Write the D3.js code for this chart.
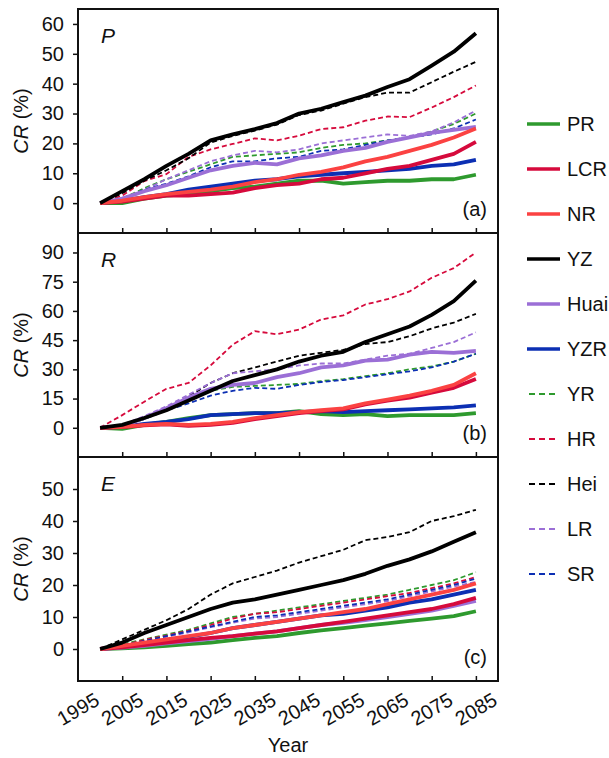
<!DOCTYPE html>
<html>
<head>
<meta charset="utf-8">
<script src="https://cdn.jsdelivr.net/npm/d3@7"></script>
<style>
  body { margin: 0; background: #fff; }
  text { font-family: "Liberation Sans", Arial, sans-serif; fill: #111; }
</style>
</head>
<body>
<script>
// years (every 5 years)
var years = [2000, 2005, 2010, 2015, 2020, 2025, 2030, 2035, 2040, 2045, 2050, 2055, 2060, 2065, 2070, 2075, 2080, 2085];

var names = ["PR", "LCR", "NR", "YZ", "Huai", "YZR", "YR", "HR", "Hei", "LR", "SR"];
var colors = ["#2e9a2e", "#d60a3c", "#fb4242", "#000000", "#9b6fd6", "#0c2fb3", "#2e9a2e", "#d60a3c", "#000000", "#9b6fd6", "#0c2fb3"];
var dashed = [false, false, false, false, false, false, true, true, true, true, true];

// panel (a) P
var P_PR   = [0, 0, 1.5, 2.5, 3, 4, 5, 5.5, 6.5, 7.5, 7.5, 6.5, 7, 7.5, 7.5, 8, 8, 9.5];
var P_LCR  = [0, 0.5, 1.5, 2.5, 2.5, 3, 3.5, 5, 6, 6.5, 8, 8.5, 10, 11.5, 12.5, 14.5, 16.5, 20.5];
var P_NR   = [0, 0.8, 2, 3, 3.8, 4.5, 5.5, 7, 8, 9.5, 10.5, 12, 14, 15.5, 17.5, 19.5, 22, 25];
var P_YZ   = [0, 4, 8, 12.5, 16.5, 21, 23, 24.8, 26.8, 30, 31.6, 33.8, 36, 38.9, 41.5, 46, 50.7, 56.9];
var P_Huai = [0, 1.5, 4, 6, 8.5, 11, 12.5, 13.5, 13, 15, 16, 17.5, 18.5, 20.5, 22, 23.5, 24.5, 25.5];
var P_YZR  = [0, 0.8, 2, 3, 4.5, 5.5, 6.5, 7.5, 8, 9, 9.5, 10, 10.5, 11, 11.5, 12.5, 13, 14.5];
var P_YR   = [0, 1.5, 5, 8, 10.5, 13, 15.5, 16, 16.5, 17, 18.5, 19.5, 20, 21, 22, 24, 26.5, 30];
var P_HR   = [0, 2.5, 7.4, 9.7, 15.5, 18, 19.8, 21.7, 21, 22.6, 24.8, 25.4, 27.6, 29, 28.8, 32, 35.5, 39.4];
var P_Hei  = [0, 3.3, 7.5, 11, 15, 20.3, 22.5, 24.3, 26.3, 29.5, 31, 33.3, 35.5, 37, 37, 40.5, 44, 47.3];
var P_LR   = [0, 1.5, 4.5, 8, 11, 14, 16, 17.5, 17, 18, 20, 21, 22, 23, 22.5, 24, 27, 31];
var P_SR   = [0, 1.3, 4.5, 6.5, 9, 12, 14, 14, 15, 15.5, 17.5, 18, 19.5, 21, 22, 23, 25, 28];

// panel (b) R
var R_PR   = [0, -0.5, 1.5, 3, 5, 6.5, 7, 7.5, 7.5, 8.5, 7, 6.5, 7, 6, 6.5, 6.5, 6.5, 7.5];
var R_LCR  = [0, 0.3, 1.2, 1.8, 1, 1.5, 2.5, 4.5, 6, 7.5, 8.5, 9.5, 12, 14, 15.5, 18, 20.5, 25];
var R_NR   = [0, 0.5, 1.5, 2, 1.5, 2, 3, 5, 6.5, 8, 9, 10, 12.5, 14.5, 16.5, 19, 22, 28];
var R_YZ   = [0, 1.5, 5, 9, 14, 19, 24, 27, 30, 34, 37, 39, 44, 48, 52, 58, 65, 75.5];
var R_Huai = [0, 1, 5, 10, 15.5, 20, 22, 23, 26, 28, 31, 32, 34.5, 35, 37.5, 39, 38.5, 39.5];
var R_YZR  = [0, 0.5, 2, 3, 4.5, 6.5, 7, 7.5, 7.5, 8, 8.5, 8, 8.5, 9, 9.5, 10, 10.5, 11.5];
var R_YR   = [0, 1, 4.5, 9, 14.5, 19, 21, 21.5, 22, 22.5, 24, 25, 26.5, 28, 30, 31.5, 34, 38];
var R_HR   = [0, 6.5, 13.4, 20, 23, 32, 42.7, 49.6, 48, 50.4, 55.6, 57.7, 63.3, 66, 70, 77, 82, 90];
var R_Hei  = [0, 1.5, 5, 10, 16, 23, 28, 31, 34, 37, 38.5, 40, 43, 44, 47, 51, 54, 58.5];
var R_LR   = [0, 1.5, 6, 11, 17, 23, 28, 29, 30, 32, 33, 33, 35, 37, 38, 41, 44, 49];
var R_SR   = [0, 1, 4.5, 9, 12.5, 16.5, 19, 20.5, 20, 22, 23.5, 24.5, 26, 27.5, 29, 31, 34, 38];

// panel (c) E
var E_PR   = [0, 0.2, 0.5, 1, 1.5, 2, 2.8, 3.5, 4, 5, 5.8, 6.5, 7.3, 8, 8.8, 9.5, 10.3, 11.8];
var E_LCR  = [0, 0.5, 1.2, 2, 2.8, 3.5, 4, 4.8, 5.5, 6.5, 7.5, 8.5, 9.5, 10.5, 11.5, 12.5, 14, 16];
var E_NR   = [0, 1, 2, 3, 4, 5, 6.5, 7.5, 8.5, 9.5, 10.5, 11.5, 12.5, 14, 15.5, 17, 18.5, 20.5];
var E_YZ   = [0, 2, 5, 7.5, 10, 12.5, 14.5, 15.5, 17, 18.5, 20, 21.5, 23.5, 26, 28, 30.5, 33.5, 36.5];
var E_Huai = [0, 0.4, 1, 1.8, 2.5, 3.2, 4, 4.8, 5.5, 6.5, 7.5, 8.2, 9, 10, 11, 12, 13.5, 15];
var E_YZR  = [0, 0.8, 1.8, 2.8, 3.8, 5, 6.5, 7.5, 8.5, 9.5, 10.5, 11, 12, 13, 14.5, 15.5, 17, 18.5];
var E_YR   = [0, 1.5, 3, 4.5, 6, 8, 10, 11, 12, 13, 14, 15, 16, 17, 18.5, 20, 21.5, 24];
var E_HR   = [0, 1.2, 2.8, 4.2, 5.7, 7.5, 9.5, 11, 11.5, 12.5, 13.5, 14.5, 15.5, 16.5, 17.5, 19, 20.5, 22.5];
var E_Hei  = [0, 3, 6, 9, 12.5, 17, 20.5, 22.5, 24.5, 27, 29, 31, 34, 35, 36.5, 40, 41.5, 43.5];
var E_LR   = [0, 1, 2.3, 3.8, 5.2, 6.8, 8.2, 9.5, 10, 11, 12, 13, 14, 15, 16.5, 18, 19.5, 21];
var E_SR   = [0, 1, 2.5, 4, 5.5, 7, 8.5, 10, 10.5, 11.5, 12.5, 13.5, 14.5, 15.5, 17, 18.5, 20, 22];

// x tick labels
var xTicks = [1995, 2005, 2015, 2025, 2035, 2045, 2055, 2065, 2075, 2085];

var panels = [
  {letter: "P", tag: "(a)", domain: [-10, 65], ticks: [0, 10, 20, 30, 40, 50, 60],
   series: [P_PR, P_LCR, P_NR, P_YZ, P_Huai, P_YZR, P_YR, P_HR, P_Hei, P_LR, P_SR]},
  {letter: "R", tag: "(b)", domain: [-15, 100], ticks: [0, 15, 30, 45, 60, 75, 90],
   series: [R_PR, R_LCR, R_NR, R_YZ, R_Huai, R_YZR, R_YR, R_HR, R_Hei, R_LR, R_SR]},
  {letter: "E", tag: "(c)", domain: [-10, 60], ticks: [0, 10, 20, 30, 40, 50],
   series: [E_PR, E_LCR, E_NR, E_YZ, E_Huai, E_YZR, E_YR, E_HR, E_Hei, E_LR, E_SR]}
];

var width = 609, height = 758,
    left = 78, right = 498,
    top0 = 9, panelH = 224,
    fs = "20px";

var svg = d3.select("body").append("svg")
    .attr("width", width)
    .attr("height", height);

var x = d3.scaleLinear().domain([1995, 2090]).range([left, right]);

// draw order: dashed first, solid on top
var order = [6, 7, 8, 9, 10, 0, 5, 4, 1, 2, 3];

panels.forEach(function(p, pi) {
  var top = top0 + pi * panelH, bottom = top + panelH;
  var y = d3.scaleLinear().domain(p.domain).range([bottom, top]);

  var g = svg.append("g");

  var clipId = "clip" + pi;
  g.append("clipPath").attr("id", clipId)
    .append("rect").attr("x", left).attr("y", top).attr("width", right - left).attr("height", panelH);

  var line = d3.line()
      .x(function(d, i) { return x(years[i]); })
      .y(function(d) { return y(d); });

  g.append("g").attr("clip-path", "url(#" + clipId + ")")
    .selectAll("path")
    .data(order)
    .enter().append("path")
      .attr("d", function(k) { return line(p.series[k]); })
      .attr("fill", "none")
      .attr("stroke", function(k) { return colors[k]; })
      .attr("stroke-width", function(k) { return dashed[k] ? 1.8 : 3.8; })
      .attr("stroke-dasharray", function(k) { return dashed[k] ? "5,3" : null; })
      .attr("stroke-linejoin", "round");

  // y axis
  var yAxis = d3.axisLeft(y).tickValues(p.ticks).tickSize(5).tickPadding(9);
  var ya = g.append("g").attr("transform", "translate(" + left + ",0)").call(yAxis);
  ya.select(".domain").remove();
  ya.selectAll("line").attr("stroke", "#111").attr("stroke-width", 1.5);
  ya.selectAll("text").style("font-size", fs).attr("font-family", "Liberation Sans, Arial, sans-serif").attr("fill", "#111");

  // x ticks (inward at bottom)
  var xAxis = d3.axisTop(x).tickValues(xTicks.slice(1)).tickSize(5).tickFormat("");
  var xa = g.append("g").attr("transform", "translate(0," + bottom + ")").call(xAxis);
  xa.select(".domain").remove();
  xa.selectAll("line").attr("stroke", "#111").attr("stroke-width", 1.5);

  // frame
  g.append("rect")
    .attr("x", left).attr("y", top)
    .attr("width", right - left).attr("height", panelH)
    .attr("fill", "none").attr("stroke", "#111").attr("stroke-width", 2);

  g.append("text")
    .attr("x", 101).attr("y", top + 34)
    .style("font-size", "21px").style("font-style", "italic")
    .text(p.letter);

  g.append("text")
    .attr("x", right - 11).attr("y", bottom - 17)
    .attr("text-anchor", "end")
    .style("font-size", fs)
    .text(p.tag);

  var lab = g.append("text")
    .attr("transform", "translate(28," + (top + panelH / 2) + ") rotate(-90)")
    .attr("text-anchor", "middle")
    .style("font-size", fs);
  lab.append("tspan").style("font-style", "italic").text("CR");
  lab.append("tspan").text(" (%)");
});

// x tick labels, rotated
var xBottom = top0 + 3 * panelH;
svg.append("g").selectAll("text")
  .data(xTicks)
  .enter().append("text")
    .attr("transform", function(d) { return "translate(" + x(d) + "," + (xBottom + 28) + ") rotate(-30)"; })
    .attr("text-anchor", "middle")
    .attr("dy", "0.35em")
    .style("font-size", fs)
    .text(function(d) { return d; });

svg.append("text")
  .attr("x", (left + right) / 2).attr("y", 752)
  .attr("text-anchor", "middle")
  .style("font-size", fs)
  .text("Year");

// legend
var legend = svg.append("g").selectAll("g")
  .data(names)
  .enter().append("g")
    .attr("transform", function(d, i) { return "translate(0," + (124 + i * 45) + ")"; });

legend.append("line")
  .attr("x1", function(d, i) { return dashed[i] ? 529 : 527; })
  .attr("x2", function(d, i) { return dashed[i] ? 557 : 560; })
  .attr("stroke", function(d, i) { return colors[i]; })
  .attr("stroke-width", function(d, i) { return dashed[i] ? 2 : 3.5; })
  .attr("stroke-dasharray", function(d, i) { return dashed[i] ? "6,4" : null; });

legend.append("text")
  .attr("x", 567)
  .attr("dy", "0.35em")
  .style("font-size", fs)
  .text(function(d) { return d; });
</script>
</body>
</html>
